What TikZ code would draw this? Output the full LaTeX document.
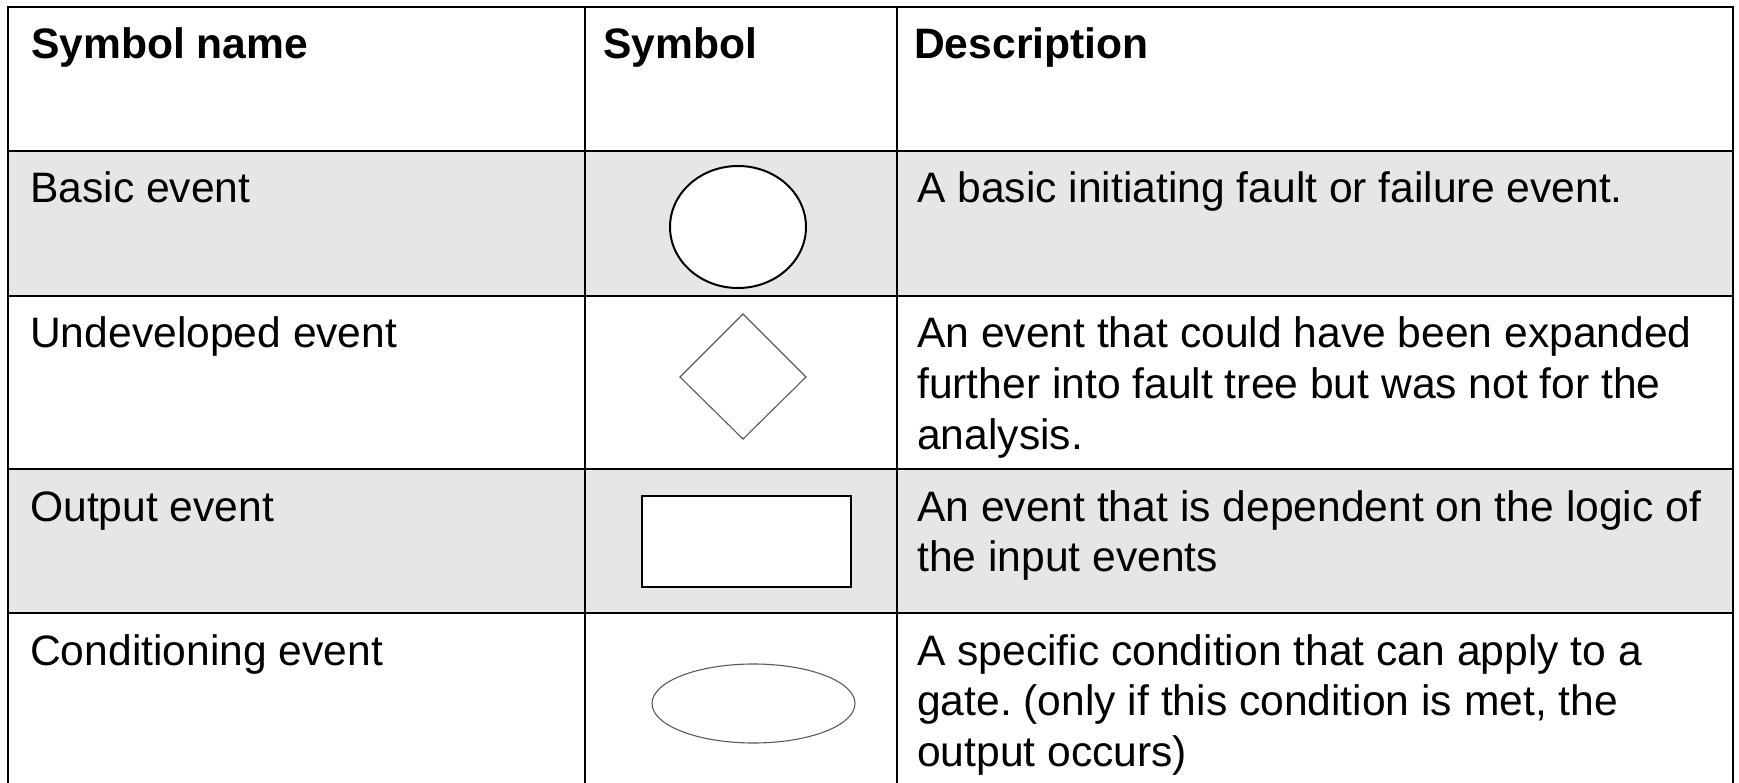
\documentclass[tikz,border=0pt]{standalone}
\usepackage{fontspec}
\setmainfont{Liberation Sans}
\frenchspacing
\definecolor{rowgray}{HTML}{E7E6E6}
\definecolor{thingray}{HTML}{5A5A5A}
\tikzset{
  txt/.style={anchor=base west, inner sep=0pt, font=\fontsize{42.6}{50.5}\selectfont},
  headtxt/.style={txt, font=\fontsize{42.6}{50.5}\selectfont\bfseries},
  gridline/.style={line width=2pt, black},
  boldshape/.style={draw=black, line width=2pt, fill=white},
  thinshape/.style={draw=thingray, line width=1.1pt, fill=white},
}
\newcommand{\desc}[1]{\parbox[t]{812pt}{\raggedright\frenchspacing #1}}
\begin{document}
\begin{tikzpicture}[x=1pt,y=-1pt]
\useasboundingbox (0,0) rectangle (1739,783);
% shaded rows
\fill[rowgray] (8,151) rectangle (1733,296);
\fill[rowgray] (8,469) rectangle (1733,613);
% grid
\draw[gridline] (8,800) -- (8,7) -- (1733,7) -- (1733,800);
\foreach \yy in {151,296,469,613} \draw[gridline] (8,\yy) -- (1733,\yy);
\draw[gridline] (585,7) -- (585,800);
\draw[gridline] (897,7) -- (897,800);
% symbols
\draw[boldshape] (738,227) ellipse [x radius=68, y radius=61];
\draw[thinshape] (680,377) -- (743,314) -- (806,377) -- (743,439) -- cycle;
\draw[boldshape] (642,496) rectangle (851,587);
\draw[thinshape] (753.5,703.5) ellipse [x radius=101.5, y radius=39.5];
% header
\node[headtxt] (h1) at (31,59) {Symbol name};
\node[headtxt] (h2) at (603,59) {Symbol};
\node[headtxt] (h3) at (914,59) {Description};
% names
\node[txt] (n1) at (30,203) {Basic event};
\node[txt] (n2) at (30,348) {Undeveloped event};
\node[txt] (n3) at (30,521) {Output event};
\node[txt] (n4) at (30,665) {Conditioning event};
% descriptions
\node[txt] (d1) at (917,203) {A basic initiating fault or failure event.};
\node[txt] (d2) at (917,348) {\desc{An event that could have been expanded\\further into fault tree but was not for the\\analysis.}};
\node[txt] (d3) at (917,521) {\desc{An event that is dependent on the logic of\\the input events}};
\node[txt] (d4) at (917,665) {\desc{A specific condition that can apply to a\\gate. (only if this condition is met, the\\output occurs)}};
\end{tikzpicture}
\end{document}
